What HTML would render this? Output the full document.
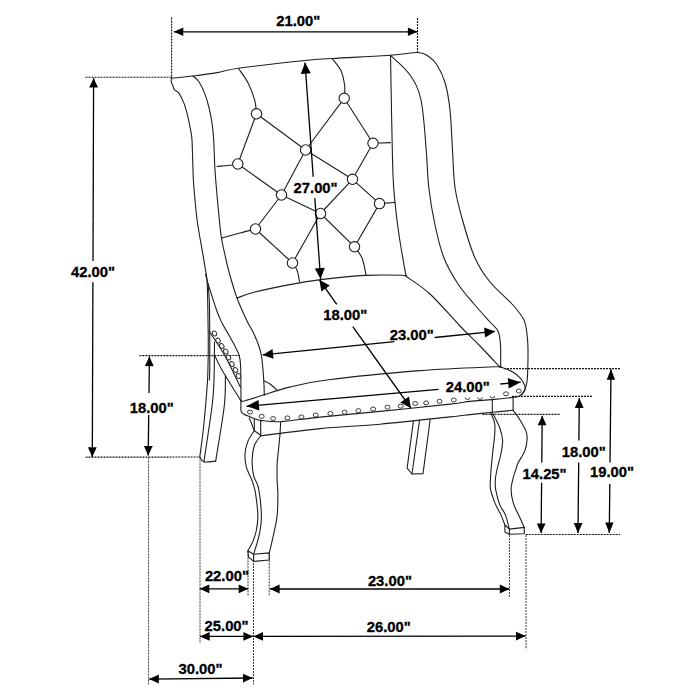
<!DOCTYPE html><html><head><meta charset="utf-8"><style>html,body{margin:0;padding:0;background:#fff;}svg{display:block;}</style></head><body>
<svg width="700" height="700" viewBox="0 0 700 700">
<rect width="700" height="700" fill="#fff"/>
<g stroke="#111" stroke-width="1.15" stroke-dasharray="2 1" fill="none">
<path d="M171.6 17.5 L171.6 78.0"/>
<path d="M85.5 77.2 L171.6 77.2"/>
<path d="M417.5 18.0 L417.5 52.0"/>
<path d="M139.4 355.7 L240.0 355.5"/>
<path d="M85.5 457.2 L199.7 457.0"/>
<path d="M504.0 368.6 L620.0 368.6"/>
<path d="M512.0 396.4 L592.9 396.4"/>
<path d="M482.5 414.3 L560.0 414.3"/>
<path d="M525.7 534.5 L620.0 534.5"/>
</g>
<g stroke="#3a3a3a" stroke-width="1" stroke-dasharray="2 1" fill="none">
<path d="M148.6 457.5 L148.6 684.3"/>
<path d="M200.0 457.4 L200.0 642.9"/>
<path d="M248.0 551.4 L248.0 595.7"/>
<path d="M253.5 557.0 L253.5 684.3"/>
<path d="M269.2 554.3 L269.2 595.7"/>
<path d="M509.4 535.0 L509.4 597.0"/>
<path d="M526.0 535.0 L526.0 649.5"/>
</g>
<g stroke="#1e1e1e" stroke-width="1.1" fill="none" stroke-linejoin="round" stroke-linecap="round">
<path d="M171.4 78.3 C175.0 77.9 185.5 77.0 193.1 76.0 C200.7 75.0 209.3 73.9 217.1 72.6 C224.9 71.3 225.3 70.0 240.0 68.0 C254.7 66.0 289.7 62.1 305.0 60.5 C320.3 58.9 317.8 59.4 332.0 58.5 C346.2 57.6 376.2 56.3 390.5 55.3 C404.8 54.3 411.2 52.4 417.5 52.5 C423.8 52.6 424.8 53.9 428.0 56.0 C431.2 58.1 434.2 60.6 437.0 65.0 C439.8 69.4 442.8 75.0 445.0 82.5 C447.2 90.0 448.8 98.8 450.0 110.0 C451.2 121.2 451.7 137.1 452.5 150.0 C453.3 162.9 453.3 175.8 455.0 187.5 C456.7 199.2 459.2 208.2 462.5 220.0 C465.8 231.8 470.4 247.7 475.0 258.0 C479.6 268.3 483.8 274.3 490.0 282.0 C496.2 289.7 506.3 297.7 512.0 304.0 C517.7 310.3 521.5 315.0 524.0 320.0 C526.5 325.0 526.3 329.0 527.0 334.0 C527.7 339.0 527.9 344.3 528.0 350.0 C528.1 355.7 527.9 363.0 527.8 368.0 C527.7 373.0 527.5 376.8 527.2 380.0 C526.9 383.2 526.4 385.0 525.8 387.0 C525.2 389.0 524.6 390.4 523.5 392.0 C522.4 393.6 519.8 395.8 519.0 396.5"/>
<path d="M171.4 78.3 C171.4 79.0 171.1 81.0 171.4 82.3 C171.7 83.6 172.6 85.1 173.1 86.3 C173.6 87.5 173.3 88.6 174.3 89.7 C175.3 90.8 177.3 90.8 178.9 93.1 C180.5 95.4 182.6 99.8 184.0 103.4 C185.4 107.0 186.3 110.7 187.4 114.9 C188.5 119.1 189.5 124.4 190.3 128.6 C191.1 132.8 191.6 133.1 192.0 140.0 C192.4 146.9 192.7 162.3 193.0 170.0 C193.3 177.7 193.1 177.7 193.8 186.0 C194.5 194.3 195.6 208.6 197.1 220.0 C198.6 231.4 201.5 246.0 202.9 254.3 C204.3 262.6 204.8 265.7 205.5 270.0 C206.2 274.3 206.7 276.3 207.0 280.0 C207.3 283.7 207.3 285.3 207.5 292.0 C207.7 298.7 207.9 311.2 208.0 320.0 C208.1 328.8 208.3 336.7 208.3 345.0 C208.3 353.3 208.1 363.0 207.9 370.0 C207.7 377.0 207.8 377.5 207.1 387.0 C206.4 396.5 204.8 415.3 203.6 427.0 C202.4 438.7 200.4 452.0 199.8 457.0"/>
<path d="M205.5 274.0 C205.9 275.8 207.4 280.7 208.0 285.0 C208.6 289.3 209.0 292.5 209.3 300.0 C209.6 307.5 209.6 320.0 209.7 330.0 C209.8 340.0 209.8 351.7 209.8 360.0 C209.8 368.3 209.6 376.7 209.5 380.0"/>
<path d="M193.1 76.0 C194.1 77.0 197.0 78.9 198.9 81.7 C200.8 84.5 202.9 88.7 204.6 93.1 C206.3 97.5 207.9 103.0 209.1 108.0 C210.3 113.0 211.2 117.6 212.0 122.9 C212.8 128.2 213.2 132.2 213.7 140.0 C214.2 147.8 214.4 160.8 215.0 170.0 C215.6 179.2 216.0 184.2 217.0 195.0 C218.0 205.8 219.7 225.0 221.0 235.0 C222.3 245.0 223.7 248.8 225.0 255.0 C226.3 261.2 227.0 264.8 229.0 272.0 C231.0 279.2 234.0 289.8 237.0 298.0 C240.0 306.2 244.3 315.3 247.0 321.0 C249.7 326.7 251.1 328.0 253.0 332.0 C254.9 336.0 257.1 341.0 258.5 345.0 C259.9 349.0 260.8 351.8 261.5 356.0 C262.2 360.2 262.6 365.2 263.0 370.0 C263.4 374.8 263.8 380.8 264.0 385.0 C264.2 389.2 264.2 393.4 264.3 395.1"/>
<path d="M237.0 298.0 C240.0 297.0 246.2 294.2 255.0 292.0 C263.8 289.8 278.8 286.7 289.7 284.6 C300.6 282.5 308.0 281.1 320.6 279.6 C333.2 278.1 351.9 276.1 365.5 275.4 C379.1 274.7 395.2 275.1 402.0 275.3 C408.8 275.5 405.3 276.1 406.0 276.3"/>
<path d="M390.5 55.3 C390.7 64.4 391.1 90.0 391.5 110.0 C391.9 129.9 392.4 159.6 393.0 175.0 C393.6 190.4 394.0 192.5 395.0 202.5 C396.0 212.5 397.2 222.8 399.0 235.0 C400.8 247.2 404.8 269.2 406.0 276.0"/>
<path d="M406.0 276.3 C410.0 279.2 421.0 285.7 430.0 294.0 C439.0 302.3 451.7 317.3 460.0 326.0 C468.3 334.7 473.4 339.2 480.0 346.0 C486.6 352.8 496.4 363.5 499.7 367.0"/>
<path d="M390.5 55.3 C393.8 58.6 404.9 67.5 410.0 75.0 C415.1 82.5 418.3 87.5 421.0 100.0 C423.7 112.5 425.0 135.4 426.2 150.0 C427.5 164.6 427.3 175.0 428.8 187.5 C430.2 200.0 432.5 213.2 435.0 225.0 C437.5 236.8 440.2 248.2 444.0 258.0 C447.8 267.8 453.0 276.3 458.0 284.0 C463.0 291.7 468.7 297.7 474.0 304.0 C479.3 310.3 486.0 317.5 490.0 322.0 C494.0 326.5 496.2 327.2 498.0 331.0 C499.8 334.8 500.1 339.0 500.5 345.0 C500.9 351.0 500.6 363.3 500.6 367.0"/>
<path d="M241.4 401.1 C242.1 401.0 241.7 401.7 245.3 400.7 C249.0 399.7 256.0 397.4 263.3 395.1 C270.6 392.8 278.5 389.7 289.4 387.1 C300.3 384.5 306.8 382.4 328.6 379.7 C350.4 376.9 392.4 372.8 420.0 370.6 C447.6 368.5 480.7 367.4 494.0 366.8 C507.3 366.2 497.8 366.7 499.7 367.0 C501.6 367.3 503.3 367.7 505.7 368.7 C508.1 369.7 511.9 371.4 514.3 373.0 C516.7 374.6 518.7 376.4 520.3 378.1 C521.9 379.8 522.9 381.7 523.7 383.3 C524.5 384.9 525.1 386.3 525.2 387.6 C525.3 388.9 524.9 389.9 524.4 391.0 C523.9 392.1 523.0 393.5 522.0 394.4 C521.0 395.3 520.2 396.1 518.6 396.6 C517.0 397.1 513.6 397.3 512.6 397.4"/>
<path d="M241.0 401.0 C241.0 402.6 240.6 408.4 241.0 410.6 C241.4 412.8 242.2 413.0 243.6 414.0 C245.0 415.0 247.6 415.8 249.6 416.6 C251.6 417.5 253.8 418.5 255.6 419.1 C257.4 419.7 256.6 420.0 260.7 420.4 C264.8 420.8 270.5 422.2 280.4 421.7 C290.3 421.1 303.4 418.8 320.0 417.1 C336.6 415.4 358.3 413.6 380.0 411.4 C401.7 409.2 435.0 405.8 450.0 404.1 C465.0 402.4 462.9 402.1 470.0 401.4 C477.1 400.6 485.2 400.3 492.3 399.6 C499.4 398.9 509.2 397.8 512.6 397.4"/>
<path d="M264.3 380.9 C265.2 381.4 267.9 382.5 270.0 384.0 C272.1 385.5 275.8 389.0 276.9 390.0"/>
<path d="M207.5 282.0 C209.0 286.7 214.1 303.2 216.5 310.0 C218.9 316.8 219.8 318.5 222.0 323.0 C224.2 327.5 227.2 331.7 230.0 337.0 C232.8 342.3 237.2 349.5 239.0 355.0 C240.8 360.5 240.4 362.3 240.7 370.0 C241.0 377.7 240.9 395.8 241.0 401.0"/>
<path d="M209.0 331.0 C211.7 335.2 219.8 346.7 225.0 356.0 C230.2 365.3 237.8 381.8 240.4 387.0"/>
<path d="M214.5 355.0 C215.8 357.5 217.6 362.4 222.0 370.0 C226.4 377.6 237.8 395.8 240.9 400.9"/>
<path d="M214.5 342.0 C214.4 348.3 214.4 369.4 214.0 380.0 C213.6 390.6 213.8 392.1 212.1 405.7 C210.4 419.3 205.3 452.4 203.9 461.8"/>
<path d="M225.4 376.0 C225.2 380.9 225.9 391.5 224.3 405.7 C222.7 419.9 217.1 451.9 215.7 461.1"/>
<path d="M199.8 457.0 C200.5 457.8 201.2 461.1 203.9 461.8 C206.6 462.5 213.7 461.2 215.7 461.1"/>
<path d="M261.4 435.7 C271.2 434.5 300.2 430.5 320.0 428.6 C339.8 426.7 358.3 426.1 380.0 424.2 C401.7 422.2 435.0 418.5 450.0 416.9 C465.0 415.3 462.9 415.4 470.0 414.6 C477.1 413.8 485.1 413.0 492.3 412.3 C499.5 411.6 509.6 410.6 513.1 410.3"/>
<path d="M254.3 430.7 C253.2 432.5 249.5 437.5 247.9 441.4 C246.3 445.3 245.2 450.0 245.0 454.3 C244.8 458.6 245.1 462.3 246.4 467.1 C247.7 471.9 251.4 478.4 252.9 482.9 C254.4 487.4 254.9 488.8 255.7 494.3 C256.5 499.8 257.8 509.8 257.9 515.7 C258.0 521.7 257.2 525.7 256.4 530.0 C255.6 534.3 254.3 537.9 252.9 541.4 C251.5 544.9 248.7 549.2 247.9 550.7"/>
<path d="M260.7 435.7 C259.6 437.4 255.7 441.6 254.3 445.7 C252.9 449.8 252.2 455.0 252.1 460.0 C252.0 465.0 252.5 470.9 253.6 475.7 C254.7 480.5 257.3 481.9 258.6 488.6 C259.9 495.3 261.3 508.1 261.4 515.7 C261.5 523.3 260.6 527.9 259.3 534.3 C258.0 540.7 254.6 551.0 253.6 554.3"/>
<path d="M280.0 434.3 C279.8 436.7 279.1 443.6 278.6 448.6 C278.1 453.6 277.4 459.1 277.1 464.3 C276.9 469.5 277.0 475.0 277.1 480.0 C277.2 485.0 277.9 488.4 277.9 494.3 C277.9 500.2 277.8 509.0 277.1 515.7 C276.4 522.4 274.9 528.1 273.6 534.3 C272.3 540.5 270.0 549.8 269.3 552.9"/>
<path d="M490.6 412.9 C491.3 414.6 493.9 419.3 494.6 423.1 C495.3 426.9 494.9 431.1 494.6 435.7 C494.3 440.3 493.5 444.9 492.9 450.6 C492.3 456.3 491.4 465.1 491.0 470.0 C490.6 474.9 490.5 476.7 490.4 480.0 C490.3 483.3 489.8 485.8 490.6 489.7 C491.4 493.6 493.4 499.2 495.1 503.4 C496.8 507.6 499.3 511.3 500.9 514.9 C502.5 518.5 504.2 523.3 504.9 525.0"/>
<path d="M492.9 413.4 C494.0 415.8 498.1 423.2 499.7 427.7 C501.3 432.2 502.4 435.9 502.6 440.3 C502.8 444.7 501.8 449.1 500.9 454.0 C499.9 458.9 497.8 465.7 496.9 470.0 C496.0 474.3 495.5 476.7 495.3 480.0 C495.1 483.3 495.0 485.6 495.7 489.7 C496.4 493.8 498.1 500.4 499.7 504.6 C501.3 508.8 503.8 510.8 505.4 514.9 C507.0 519.0 508.7 526.7 509.4 529.1"/>
<path d="M513.1 410.3 C514.1 411.7 517.0 415.1 519.1 418.6 C521.2 422.1 524.7 427.7 526.0 431.1 C527.3 434.5 527.3 435.9 527.1 439.1 C526.9 442.4 526.4 446.6 524.9 450.6 C523.4 454.6 519.5 459.9 518.0 463.1 C516.5 466.3 516.5 467.7 515.7 470.0 C514.9 472.3 514.2 473.8 513.4 477.1 C512.6 480.4 511.1 485.3 511.1 489.7 C511.1 494.1 512.1 499.0 513.4 503.4 C514.7 507.8 517.3 512.0 519.1 516.0 C520.9 520.0 523.4 525.5 524.3 527.4"/>
<path d="M238.5 68.5 C240.1 71.0 245.6 78.1 248.3 83.4 C251.0 88.7 253.3 95.0 254.7 100.1 C256.1 105.2 256.2 111.5 256.5 113.8"/>
<path d="M331.9 58.5 C333.4 60.5 338.8 66.0 340.9 70.6 C343.0 75.2 344.1 81.4 344.7 86.0 C345.2 90.6 344.3 96.2 344.2 98.3"/>
<path d="M217.0 166.5 C218.8 166.3 224.5 165.9 228.0 165.5 C231.5 165.1 236.2 164.2 237.8 164.0"/>
<path d="M222.0 238.0 C225.0 237.2 234.4 234.5 240.0 233.0 C245.6 231.5 252.9 229.7 255.5 229.0"/>
<path d="M292.5 263.0 C293.2 264.2 295.8 266.9 297.0 270.0 C298.2 273.1 299.1 279.6 299.5 281.5"/>
<path d="M354.5 246.8 C355.8 248.6 360.0 253.2 362.0 258.0 C364.0 262.8 365.5 272.8 366.2 275.7"/>
<path d="M249.3 417.9 L254.3 430.7 L261.4 435.7"/>
<path d="M254.3 418.6 L254.3 430.7"/>
<path d="M260.7 420.7 L260.7 435.7"/>
<path d="M280.7 422.1 L280.0 434.3"/>
<path d="M492.3 400.0 L492.3 412.3"/>
<path d="M513.1 397.1 L513.1 410.3"/>
<path d="M247.9 550.7 L253.6 554.3 L269.3 552.9 L269.3 560.0 L253.6 561.4 L248.6 557.1 L247.9 550.7"/>
<path d="M253.6 554.3 L253.6 561.4"/>
<path d="M413.4 421.1 L407.1 468.2 L412.0 474.0 L423.0 473.6 L430.2 419.3"/>
<path d="M419.5 420.5 L412.0 474.0"/>
<path d="M504.9 525.0 L509.4 529.1 L524.3 527.4 L524.3 533.7 L509.4 534.3 L504.9 532.0 L504.9 525.0"/>
<path d="M509.4 529.1 L509.4 534.3"/>
<path d="M373.0 143.3 L390.5 142.6"/>
<path d="M379.5 203.6 L395.0 202.5"/>
<path d="M256.5 113.8 L237.8 164.0"/>
<path d="M256.5 113.8 L305.6 150.0"/>
<path d="M344.2 98.3 L305.6 150.0"/>
<path d="M344.2 98.3 L373.0 143.3"/>
<path d="M237.8 164.0 L281.5 195.0"/>
<path d="M305.6 150.0 L281.5 195.0"/>
<path d="M305.6 150.0 L352.5 179.3"/>
<path d="M373.0 143.3 L352.5 179.3"/>
<path d="M281.5 195.0 L320.5 213.5"/>
<path d="M281.5 195.0 L255.5 229.0"/>
<path d="M352.5 179.3 L320.5 213.5"/>
<path d="M352.5 179.3 L379.5 203.6"/>
<path d="M379.5 203.6 L354.5 246.8"/>
<path d="M320.5 213.5 L354.5 246.8"/>
<path d="M320.5 213.5 L292.5 263.0"/>
<path d="M255.5 229.0 L292.5 263.0"/>
</g>
<g stroke="#1e1e1e" stroke-width="1.1" fill="#fff">
<circle cx="256.5" cy="113.8" r="5.2"/>
<circle cx="344.2" cy="98.3" r="5.2"/>
<circle cx="237.8" cy="164.0" r="5.2"/>
<circle cx="305.6" cy="150.0" r="5.2"/>
<circle cx="373.0" cy="143.3" r="5.2"/>
<circle cx="281.5" cy="195.0" r="5.2"/>
<circle cx="352.5" cy="179.3" r="5.2"/>
<circle cx="379.5" cy="203.6" r="5.2"/>
<circle cx="320.5" cy="213.5" r="5.2"/>
<circle cx="255.5" cy="229.0" r="5.2"/>
<circle cx="354.5" cy="246.8" r="5.2"/>
<circle cx="292.5" cy="263.0" r="5.2"/>
</g>
<g stroke="#2a2a2a" stroke-width="0.9" fill="#fff">
<ellipse cx="214.5" cy="333.5" rx="2.6" ry="2.1" transform="rotate(60 214.5 333.5)"/>
<ellipse cx="218.0" cy="340.5" rx="2.6" ry="2.1" transform="rotate(60 218.0 340.5)"/>
<ellipse cx="221.8" cy="346.0" rx="2.6" ry="2.1" transform="rotate(60 221.8 346.0)"/>
<ellipse cx="225.8" cy="351.5" rx="2.6" ry="2.1" transform="rotate(60 225.8 351.5)"/>
<ellipse cx="228.5" cy="357.5" rx="2.6" ry="2.1" transform="rotate(60 228.5 357.5)"/>
<ellipse cx="232.0" cy="364.0" rx="2.6" ry="2.1" transform="rotate(60 232.0 364.0)"/>
<ellipse cx="235.5" cy="370.0" rx="2.6" ry="2.1" transform="rotate(60 235.5 370.0)"/>
<ellipse cx="238.5" cy="376.0" rx="2.6" ry="2.1" transform="rotate(60 238.5 376.0)"/>
<ellipse cx="250.0" cy="412.1" rx="2.5" ry="2"/>
<ellipse cx="261.7" cy="416.4" rx="2.5" ry="2"/>
<ellipse cx="273.1" cy="418.6" rx="2.5" ry="2"/>
<ellipse cx="287.4" cy="417.9" rx="2.5" ry="2"/>
<ellipse cx="301.4" cy="416.9" rx="2.5" ry="2"/>
<ellipse cx="315.7" cy="415.0" rx="2.5" ry="2"/>
<ellipse cx="330.4" cy="413.5" rx="2.5" ry="2"/>
<ellipse cx="344.6" cy="412.2" rx="2.5" ry="2"/>
<ellipse cx="358.3" cy="410.6" rx="2.5" ry="2"/>
<ellipse cx="373.1" cy="409.0" rx="2.5" ry="2"/>
<ellipse cx="387.5" cy="407.2" rx="2.5" ry="2"/>
<ellipse cx="400.7" cy="406.2" rx="2.5" ry="2"/>
<ellipse cx="415.2" cy="403.5" rx="2.5" ry="2"/>
<ellipse cx="426.2" cy="402.9" rx="2.5" ry="2"/>
<ellipse cx="439.5" cy="401.3" rx="2.5" ry="2"/>
<ellipse cx="453.8" cy="400.0" rx="2.5" ry="2"/>
<path fill="none" d="M465.2 397.5 A2.3 2 0 0 0 469.8 397.5"/>
<path fill="none" d="M477.7 397.5 A2.3 2 0 0 0 482.3 397.5"/>
<path fill="none" d="M490.2 396.0 A2.3 2 0 0 0 494.8 396.0"/>
<ellipse cx="506.0" cy="393.8" rx="2.5" ry="2"/>
<ellipse cx="518.8" cy="391.0" rx="2.5" ry="2"/>
</g>
<g stroke="#000" stroke-width="1.3" fill="none">
<path d="M173.8 31.8 L417.5 31.8"/>
<path d="M93.6 78.0 L93.0 260.9"/>
<path d="M92.9 282.3 L92.3 456.9"/>
<path d="M305.0 62.6 L313.2 176.7"/>
<path d="M314.8 198.1 L320.6 279.1"/>
<path d="M319.5 280.0 L336.8 304.3"/>
<path d="M352.8 326.7 L410.8 408.0"/>
<path d="M262.6 354.9 L394.4 341.6"/>
<path d="M434.7 337.5 L495.0 331.4"/>
<path d="M246.5 406.3 L438.6 389.4"/>
<path d="M500.3 384.0 L520.7 382.2"/>
<path d="M149.4 356.5 L149.0 392.9"/>
<path d="M148.7 415.1 L148.2 455.6"/>
<path d="M611.0 369.3 L610.0 462.5"/>
<path d="M609.8 484.0 L609.3 532.9"/>
<path d="M579.3 398.1 L578.9 440.5"/>
<path d="M578.7 462.5 L578.0 532.9"/>
<path d="M542.2 415.7 L541.8 462.6"/>
<path d="M541.6 482.7 L541.1 533.1"/>
<path d="M199.7 588.8 L248.3 588.8"/>
<path d="M270.0 589.0 L509.4 589.0"/>
<path d="M200.1 636.4 L253.0 636.4"/>
<path d="M253.4 636.4 L525.6 636.1"/>
<path d="M149.2 679.1 L252.6 678.0"/>
</g>
<g fill="#000" stroke="none">
<polygon points="173.8,31.8 183.3,27.4 183.3,36.1"/>
<polygon points="417.5,31.8 407.9,36.1 407.9,27.4"/>
<polygon points="93.6,78.0 98.0,87.6 89.2,87.6"/>
<polygon points="92.3,456.9 87.9,447.3 96.7,447.3"/>
<polygon points="305.0,62.6 310.8,73.2 300.8,73.9"/>
<polygon points="320.6,279.1 314.8,268.5 324.8,267.8"/>
<polygon points="319.5,280.0 329.9,285.5 321.3,291.6"/>
<polygon points="410.8,408.0 400.4,402.5 409.0,396.4"/>
<polygon points="262.6,354.9 272.5,348.9 273.5,358.8"/>
<polygon points="495.0,331.4 485.1,337.4 484.1,327.5"/>
<polygon points="246.5,406.3 258.5,400.0 259.4,410.4"/>
<polygon points="520.7,382.2 508.7,388.5 507.8,378.1"/>
<polygon points="149.4,356.5 153.7,366.2 144.9,366.0"/>
<polygon points="148.2,455.6 143.9,445.9 152.7,446.1"/>
<polygon points="611.0,369.3 615.1,379.8 606.7,379.8"/>
<polygon points="609.3,532.9 605.2,522.4 613.6,522.4"/>
<polygon points="579.3,398.1 583.6,407.9 574.8,407.9"/>
<polygon points="578.0,532.9 573.7,523.1 582.5,523.1"/>
<polygon points="542.2,415.7 546.5,425.3 537.7,425.3"/>
<polygon points="541.1,533.1 536.8,523.5 545.6,523.5"/>
<polygon points="199.7,588.8 209.3,584.4 209.3,593.2"/>
<polygon points="248.3,588.8 238.7,593.2 238.7,584.4"/>
<polygon points="270.0,589.0 279.6,584.6 279.6,593.4"/>
<polygon points="509.4,589.0 499.8,593.4 499.8,584.6"/>
<polygon points="200.1,636.4 209.7,632.0 209.7,640.8"/>
<polygon points="253.0,636.4 243.4,640.8 243.4,632.0"/>
<polygon points="253.4,636.4 263.0,632.0 263.0,640.8"/>
<polygon points="525.6,636.1 516.0,640.5 516.0,631.7"/>
<polygon points="149.2,679.1 158.8,674.6 158.8,683.4"/>
<polygon points="252.6,678.0 243.0,682.5 243.0,673.7"/>
</g>
<g font-family="Liberation Sans, sans-serif" font-weight="bold" font-size="14.8" fill="#000" stroke="#000" stroke-width="0.3" text-anchor="middle">
<text transform="translate(298.3 25.8) scale(1 1.05)">21.00&quot;</text>
<text transform="translate(93.0 276.5) scale(1 1.05)">42.00&quot;</text>
<text transform="translate(315.6 192.6) scale(1 1.05)">27.00&quot;</text>
<text transform="translate(345.2 320.0) scale(1 1.05)">18.00&quot;</text>
<text transform="translate(411.8 340.0) scale(1 1.05)">23.00&quot;</text>
<text transform="translate(467.8 391.7) scale(1 1.05)">24.00&quot;</text>
<text transform="translate(151.8 412.9) scale(1 1.05)">18.00&quot;</text>
<text transform="translate(612.0 476.5) scale(1 1.05)">19.00&quot;</text>
<text transform="translate(583.7 456.5) scale(1 1.05)">18.00&quot;</text>
<text transform="translate(544.6 478.7) scale(1 1.05)">14.25&quot;</text>
<text transform="translate(226.9 580.7) scale(1 1.05)">22.00&quot;</text>
<text transform="translate(389.9 586.2) scale(1 1.05)">23.00&quot;</text>
<text transform="translate(226.6 630.6) scale(1 1.05)">25.00&quot;</text>
<text transform="translate(388.8 632.3) scale(1 1.05)">26.00&quot;</text>
<text transform="translate(200.5 673.7) scale(1 1.05)">30.00&quot;</text>
</g>
</svg></body></html>
